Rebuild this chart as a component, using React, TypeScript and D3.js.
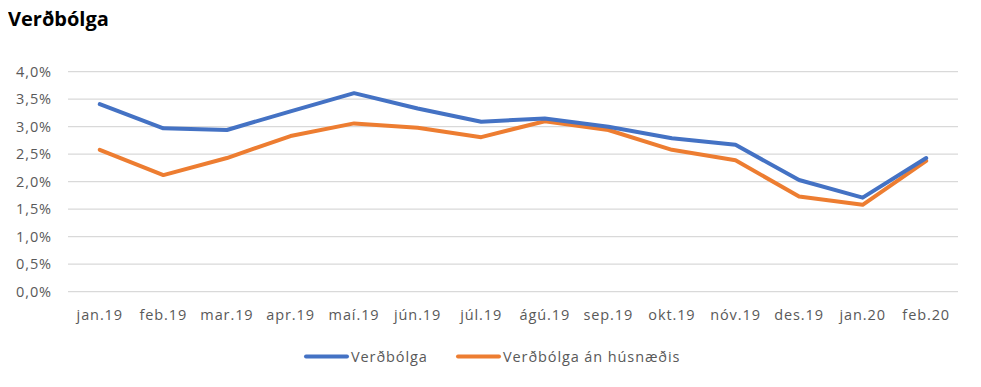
import React, { useEffect, useRef } from 'react';
import * as d3 from 'd3';

const months = ['jan.19', 'feb.19', 'mar.19', 'apr.19', 'maí.19', 'jún.19', 'júl.19', 'ágú.19', 'sep.19', 'okt.19', 'nóv.19', 'des.19', 'jan.20', 'feb.20'];
const verdbolga = [3.41, 2.97, 2.94, 3.28, 3.61, 3.33, 3.09, 3.15, 3.0, 2.79, 2.67, 2.03, 1.71, 2.43];
const anHusnaedis = [2.58, 2.12, 2.43, 2.83, 3.06, 2.98, 2.81, 3.1, 2.94, 2.58, 2.39, 1.73, 1.58, 2.38];
const yTicks = [0, 0.5, 1, 1.5, 2, 2.5, 3, 3.5, 4];

const App: React.FC = () => {
  const svgRef = useRef<SVGSVGElement>(null);

  useEffect(() => {
    if (!svgRef.current) return;
    const svg = d3.select(svgRef.current);
    svg.selectAll('*').remove();

    const left = 68;
    const right = 958;
    const top = 71.7;
    const bottom = 291.7;
    const font = '"Open Sans", sans-serif';

    const x = d3.scaleBand<string>().domain(months).range([left, right]);
    const y = d3.scaleLinear().domain([0, 4]).range([bottom, top]);

    svg
      .append('text')
      .attr('x', 8)
      .attr('y', 26)
      .attr('font-family', font)
      .attr('font-weight', 'bold')
      .attr('font-size', 20)
      .attr('fill', '#000')
      .text('Verðbólga');

    // gridlines
    svg
      .append('g')
      .selectAll('line')
      .data(yTicks)
      .enter()
      .append('line')
      .attr('x1', left)
      .attr('x2', right)
      .attr('y1', (d) => y(d))
      .attr('y2', (d) => y(d))
      .attr('stroke', '#d9d9d9')
      .attr('stroke-width', 1.3);

    const fmt = (d: number) => d.toFixed(1).replace('.', ',') + '%';

    svg
      .append('g')
      .selectAll('text')
      .data(yTicks)
      .enter()
      .append('text')
      .attr('x', 52)
      .attr('y', (d) => y(d))
      .attr('dy', '0.36em')
      .attr('text-anchor', 'end')
      .attr('font-family', font)
      .attr('font-size', 14.5)
      .attr('letter-spacing', 0.9)
      .attr('fill', '#595959')
      .text(fmt);

    svg
      .append('g')
      .selectAll('text')
      .data(months)
      .enter()
      .append('text')
      .attr('x', (d) => x(d)! + x.bandwidth() / 2)
      .attr('y', 319.5)
      .attr('text-anchor', 'middle')
      .attr('font-family', font)
      .attr('font-size', 14.5)
      .attr('letter-spacing', 0.9)
      .attr('fill', '#595959')
      .text((d) => d);

    const line = d3
      .line<number>()
      .x((_d, i) => x(months[i])! + x.bandwidth() / 2)
      .y((d) => y(d));

    const series = [
      { name: 'Verðbólga', values: verdbolga, color: '#4472C4' },
      { name: 'Verðbólga án húsnæðis', values: anHusnaedis, color: '#ED7D31' },
    ];

    series
      .slice()
      .reverse()
      .forEach((s) => {
        svg
          .append('path')
          .datum(s.values)
          .attr('d', line)
          .attr('fill', 'none')
          .attr('stroke', s.color)
          .attr('stroke-width', 4)
          .attr('stroke-linejoin', 'round')
          .attr('stroke-linecap', 'round');
      });

    const legendX = [306, 458];
    series.forEach((s, i) => {
      const g = svg.append('g').attr('transform', `translate(${legendX[i]}, 356.5)`);
      g.append('line')
        .attr('x1', 0)
        .attr('x2', 41)
        .attr('stroke', s.color)
        .attr('stroke-width', 4)
        .attr('stroke-linecap', 'round');
      g.append('text')
        .attr('x', 45)
        .attr('dy', '0.36em')
        .attr('font-family', font)
        .attr('font-size', 14.5)
        .attr('letter-spacing', 0.9)
        .attr('fill', '#595959')
        .text(s.name);
    });
  }, []);

  return (
    <div style={{ margin: -8 }}>
      <svg ref={svgRef} width={981} height={387} style={{ display: 'block' }}></svg>
    </div>
  );
};

export default App;
